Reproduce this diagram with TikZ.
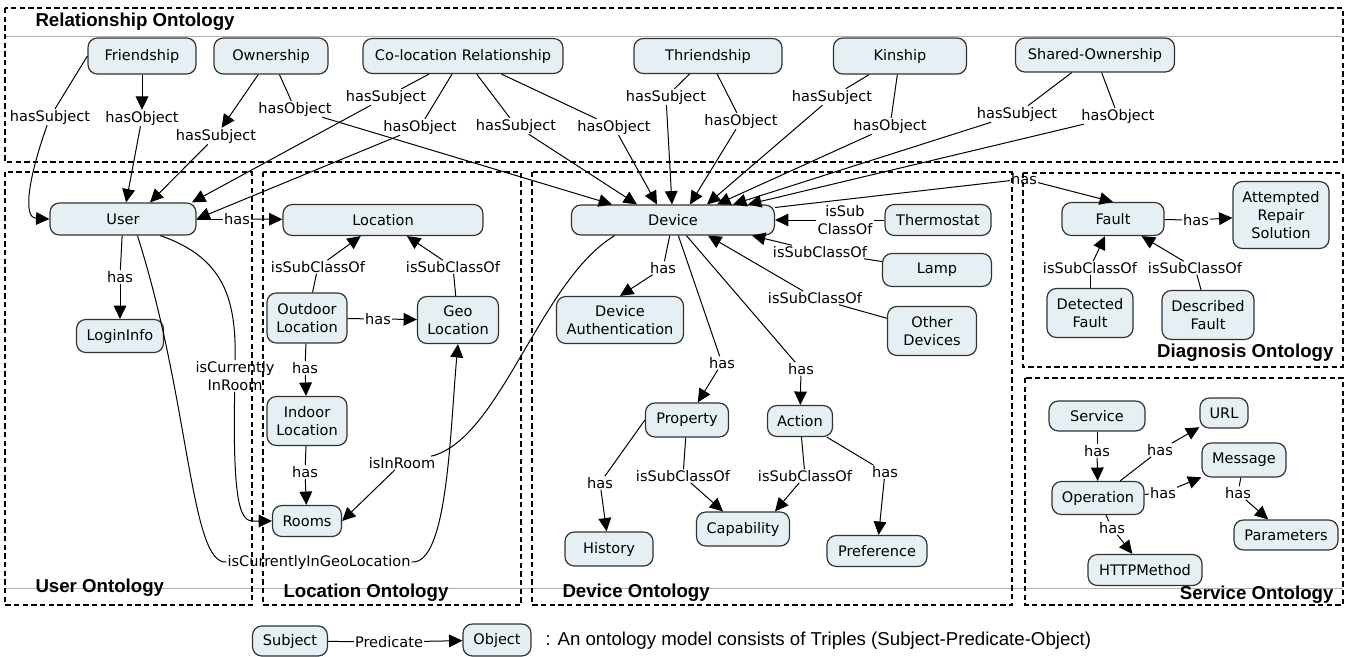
\documentclass[tikz,border=0pt]{standalone}
\usepackage{fontspec}
\setmainfont{DejaVu Sans}
\newfontfamily\arialfont{Liberation Sans}
\usepackage{tikz}
\usetikzlibrary{arrows.meta}
\definecolor{cfill}{HTML}{E6EFF3}
\newcommand{\nfont}{\fontsize{10.9}{13.5}\selectfont}
\newcommand{\tfont}{\arialfont\bfseries\fontsize{14}{16}\selectfont}

\begin{document}
\begin{tikzpicture}[x=0.75pt,y=-0.75pt,line width=0.75pt,
  concept/.style={draw=black!80,fill=cfill,rounded corners=7pt,line width=0.9pt,inner sep=1pt,align=center,font=\nfont},
  sz/.style 2 args={minimum width=#1*0.75pt,minimum height=#2*0.75pt},
  lbl/.style={inner sep=0.5pt,align=center,font=\nfont},
  arr/.style={-{Triangle[length=10pt,width=9.5pt]}},
  onto/.style={line width=1.1pt,dash pattern=on 4pt off 2.5pt},
  ttl/.style={inner sep=0pt,font=\tfont}]

\useasboundingbox (0,0) rectangle (1347,657);

\draw[black!30,line width=0.5pt] (5,36) -- (1343,36);
\draw[black!30,line width=0.5pt] (5,588) -- (1343,588);

\draw[onto] (5,8) rectangle (1343,162);
\draw[onto] (5,172) rectangle (252,605);
\draw[onto] (263,172) rectangle (521,605);
\draw[onto] (532,172) rectangle (1012,605);
\draw[onto] (1023,173) rectangle (1343,367);
\draw[onto] (1025,378) rectangle (1343,605);

\node[ttl,anchor=west] (tRel) at (35,22) {Relationship Ontology};
\node[ttl,anchor=west] (tUser) at (35,588) {User Ontology};
\node[ttl,anchor=west] (tLoc) at (283,593) {Location Ontology};
\node[ttl,anchor=west] (tDev) at (562,593) {Device Ontology};
\node[ttl,anchor=east] (tDiag) at (1334,353) {Diagnosis Ontology};
\node[ttl,anchor=east] (tServ) at (1334,595) {Service Ontology};

% relationship ontology
\node[concept,sz={108}{36}] (Friend) at (142,56) {Friendship};
\node[concept,sz={114}{36}] (Own) at (271,56) {Ownership};
\node[concept,sz={200}{35}] (Coloc) at (463,56) {Co-location Relationship};
\node[concept,sz={148}{35}] (Thri) at (708,56) {Thriendship};
\node[concept,sz={133}{36}] (Kin) at (900,56) {Kinship};
\node[concept,sz={159}{34}] (Shared) at (1095,55) {Shared-Ownership};

\node[lbl] (fSub) at (50,117) {hasSubject};
\node[lbl] (fObj) at (142,118) {hasObject};
\node[lbl] (oSub) at (216,136) {hasSubject};
\node[lbl] (oObj) at (295,109) {hasObject};
\node[lbl] (cSub1) at (386,97) {hasSubject};
\node[lbl] (cObj1) at (420,127) {hasObject};
\node[lbl] (cSub2) at (516,126) {hasSubject};
\node[lbl] (cObj2) at (614,127) {hasObject};
\node[lbl] (tSub) at (666,97) {hasSubject};
\node[lbl] (tObj) at (741,121) {hasObject};
\node[lbl] (kSub) at (832,97) {hasSubject};
\node[lbl] (kObj) at (890,126) {hasObject};
\node[lbl] (sSub) at (1017,114) {hasSubject};
\node[lbl] (sObj) at (1118,116) {hasObject};
\node[lbl] (hasFault) at (1024,179) {has};

% user and location
\node[concept,sz={146}{32}] (User) at (123,219) {User};
\node[concept,sz={87}{33}] (LoginInfo) at (120,336) {LoginInfo};
\node[concept,sz={200}{31}] (Location) at (383,220) {Location};
\node[concept,sz={80}{50}] (Outdoor) at (307,318) {Outdoor\\Location};
\node[concept,sz={81}{47}] (Geo) at (458,320) {Geo\\Location};
\node[concept,sz={80}{49}] (Indoor) at (307,421) {Indoor\\Location};
\node[concept,sz={69}{31}] (Rooms) at (307,521) {Rooms};

\node[lbl] (uLogin) at (120,277) {has};
\node[lbl] (uLoc) at (237,219) {has};
\node[lbl] (inRoomU) at (235,376) {isCurrently\\InRoom};
\node[lbl] (inGeo) at (319,562) {isCurrentlyInGeoLocation};
\node[lbl] (outSub) at (318,267) {isSubClassOf};
\node[lbl] (geoSub) at (453,267) {isSubClassOf};
\node[lbl] (outGeo) at (378,319) {has};
\node[lbl] (outIn) at (305,368) {has};
\node[lbl] (inRooms) at (305,472) {has};
\node[lbl] (inRoomD) at (402,463) {isInRoom};

% device
\node[concept,sz={203}{30}] (Device) at (673,220) {Device};
\node[concept,sz={106}{31}] (Thermo) at (938,220) {Thermostat};
\node[concept,sz={109}{33}] (Lamp) at (937,270) {Lamp};
\node[concept,sz={89}{49}] (Other) at (932,331) {Other\\Devices};
\node[concept,sz={127}{47}] (DevAuth) at (620,320) {Device\\Authentication};
\node[concept,sz={83}{34}] (Prop) at (687,420) {Property};
\node[concept,sz={65}{31}] (Action) at (800,421) {Action};
\node[concept,sz={88}{34}] (History) at (609,549) {History};
\node[concept,sz={93}{34}] (Cap) at (743,529) {Capability};
\node[concept,sz={100}{31}] (Pref) at (877,551) {Preference};

\node[lbl] (thSub) at (845,220) {isSub\\ClassOf};
\node[lbl] (lampSub) at (820,252) {isSubClassOf};
\node[lbl] (othSub) at (815,298) {isSubClassOf};
\node[lbl] (hasAuth) at (663,268) {has};
\node[lbl] (hasProp) at (722,363) {has};
\node[lbl] (hasAct) at (801,369) {has};
\node[lbl] (hasHist) at (600,483) {has};
\node[lbl] (propSub) at (683,476) {isSubClassOf};
\node[lbl] (actSub) at (805,476) {isSubClassOf};
\node[lbl] (hasPref) at (885,472) {has};

% diagnosis
\node[concept,sz={102}{33}] (Fault) at (1113,219) {Fault};
\node[concept,sz={96}{67}] (Attempt) at (1281,215) {Attempted\\Repair\\Solution};
\node[concept,sz={86}{49}] (Detected) at (1090,313) {Detected\\Fault};
\node[concept,sz={92}{49}] (Described) at (1208,315) {Described\\Fault};

\node[lbl] (hasRep) at (1196,220) {has};
\node[lbl] (detSub) at (1090,268) {isSubClassOf};
\node[lbl] (desSub) at (1195,268) {isSubClassOf};

% service
\node[concept,sz={96}{30}] (Service) at (1097,416) {Service};
\node[concept,sz={48}{30}] (URL) at (1224,413) {URL};
\node[concept,sz={84}{34}] (Message) at (1244,460) {Message};
\node[concept,sz={92}{33}] (Op) at (1098,498) {Operation};
\node[concept,sz={104}{30}] (Params) at (1286,535) {Parameters};
\node[concept,sz={114}{31}] (HTTP) at (1145,570) {HTTPMethod};

\node[lbl] (hasOp) at (1097,451) {has};
\node[lbl] (hasURL) at (1160,450) {has};
\node[lbl] (hasMsg) at (1163,493) {has};
\node[lbl] (hasPar) at (1238,493) {has};
\node[lbl] (hasHttp) at (1112,528) {has};

% legend
\node[concept,sz={75}{30}] (Subj) at (290,641) {Subject};
\node[concept,sz={68}{32}] (Obj) at (497,640) {Object};
\node[lbl] (pred) at (389,642) {Predicate};
\node[anchor=west,inner sep=0pt,font=\arialfont\fontsize{14}{16}\selectfont] (note) at (545,641)
  {: An ontology model consists of Triples (Subject-Predicate-Object)};

\draw (Friend.west) -- (fSub);
\draw[arr] (fSub) .. controls (26,185) and (24,218) .. (User.west);
\draw[arr] (Friend) -- (fObj);
\draw[arr] (fObj) -- (User);
\draw[arr] (Own) -- (oSub);
\draw[arr] (oSub) -- (150,0 |- User.north);
\draw (Own) -- (oObj);
\draw[arr] (oObj) -- (612,0 |- Device.north);
\draw (Coloc) -- (cSub1);
\draw[arr] (cSub1) -- (192,0 |- User.north);
\draw (Coloc) -- (cObj1);
\draw[arr] (cObj1) -- (User.east);
\draw (Coloc) -- (cSub2);
\draw[arr] (cSub2) -- (637,0 |- Device.north);
\draw (Coloc) -- (cObj2);
\draw[arr] (cObj2) -- (657,0 |- Device.north);
\draw (Thri) -- (tSub);
\draw[arr] (tSub) -- (672,0 |- Device.north);
\draw (Thri) -- (tObj);
\draw[arr] (tObj) -- (690,0 |- Device.north);
\draw (Kin) -- (kSub);
\draw[arr] (kSub) -- (707,0 |- Device.north);
\draw (Kin) -- (kObj);
\draw[arr] (kObj) -- (717,0 |- Device.north);
\draw (Shared) -- (sSub);
\draw[arr] (sSub) -- (733,0 |- Device.north);
\draw (Shared) -- (sObj);
\draw[arr] (sObj) -- (748,0 |- Device.north);
\draw (Device.7) -- (hasFault);
\draw[arr] (hasFault) -- (Fault.north);

\draw (User) -- (uLogin);
\draw[arr] (uLogin) -- (LoginInfo);
\draw (User) -- (uLoc);
\draw[arr] (uLoc) -- (Location);
\draw (User.-24) .. controls (225,258) and (236,300) .. (inRoomU);
\draw[arr] (inRoomU) .. controls (232,530) and (245,521) .. (Rooms.west);
\draw (User.-49) .. controls (190,400) and (190,565) .. (inGeo.west);
\draw[arr] (inGeo.east) .. controls (448,565) and (450,430) .. (Geo.south);
\draw (Outdoor) -- (outSub);
\draw[arr] (outSub) -- (Location);
\draw (Geo) -- (geoSub);
\draw[arr] (geoSub) -- (Location);
\draw (Outdoor) -- (outGeo);
\draw[arr] (outGeo) -- (Geo);
\draw (Outdoor) -- (outIn);
\draw[arr] (outIn) -- (Indoor);
\draw (Indoor) -- (inRooms);
\draw[arr] (inRooms) -- (Rooms);
\draw (Device.195) .. controls (540,280) and (500,440) .. (inRoomD);
\draw[arr] (inRoomD) -- (Rooms.east);

\draw (Thermo) -- (thSub);
\draw[arr] (thSub) -- (Device.east);
\draw (Lamp) -- (lampSub);
\draw[arr] (lampSub) -- (752,0 |- Device.south);
\draw (Other) -- (othSub);
\draw[arr] (othSub) -- (708,0 |- Device.south);
\draw (Device) -- (hasAuth);
\draw[arr] (hasAuth) -- (DevAuth.north);
\draw (Device) -- (hasProp);
\draw[arr] (hasProp) -- (Prop);
\draw (Device) -- (hasAct);
\draw[arr] (hasAct) -- (Action);
\draw (Prop.west) -- (hasHist);
\draw[arr] (hasHist) -- (History);
\draw (Prop) -- (propSub);
\draw[arr] (propSub) -- (Cap);
\draw (Action) -- (actSub);
\draw[arr] (actSub) -- (775,0 |- Cap.north);
\draw (Action) -- (hasPref);
\draw[arr] (hasPref) -- (Pref);

\draw (Fault) -- (hasRep);
\draw[arr] (hasRep) -- (Attempt);
\draw (Detected) -- (detSub);
\draw[arr] (detSub) -- (Fault);
\draw (Described) -- (desSub);
\draw[arr] (desSub) -- (Fault);

\draw (Service) -- (hasOp);
\draw[arr] (hasOp) -- (Op);
\draw (Op) -- (hasURL);
\draw[arr] (hasURL) -- (URL);
\draw (Op) -- (hasMsg);
\draw[arr] (hasMsg) -- (Message);
\draw (Message) -- (hasPar);
\draw[arr] (hasPar) -- (Params);
\draw (Op) -- (hasHttp);
\draw[arr] (hasHttp) -- (HTTP);

\draw (Subj) -- (pred);
\draw[arr] (pred) -- (Obj);

\end{tikzpicture}
\end{document}
